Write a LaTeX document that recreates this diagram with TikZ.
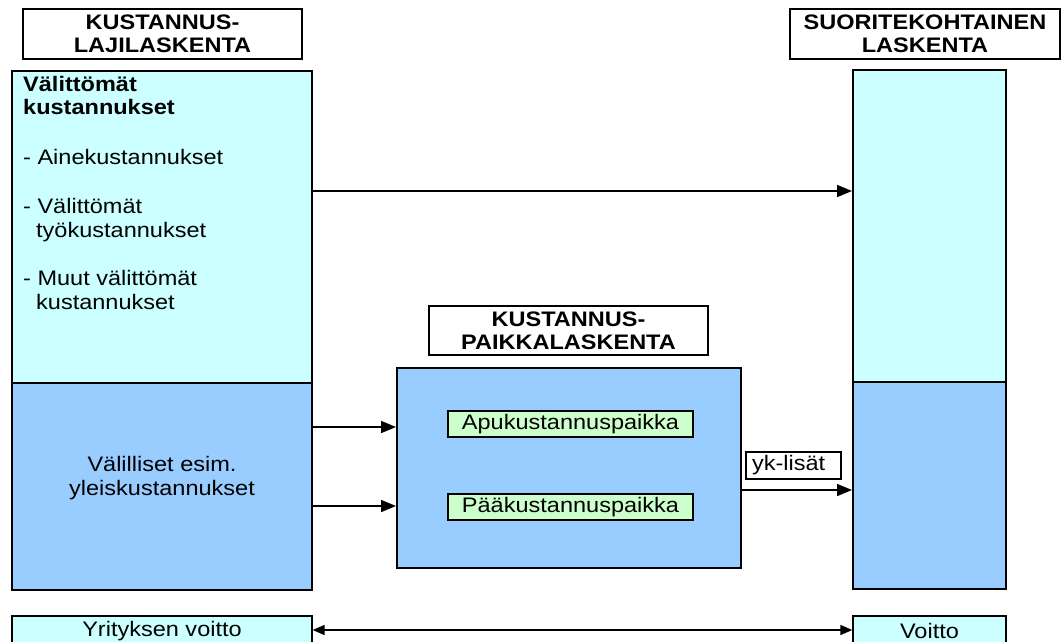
\documentclass[tikz,border=0pt]{standalone}
\usepackage{fontspec}
\setmainfont{Liberation Sans}[FakeStretch=1.12]
\usetikzlibrary{arrows.meta}
\definecolor{lightcyan}{HTML}{CCFFFF}
\definecolor{paleblue}{HTML}{99CCFF}
\definecolor{palegreen}{HTML}{CCFFCC}
\tikzset{
  txt/.style={font=\fontsize{21pt}{23.5pt}\selectfont},
  titlebox/.style={draw=black, line width=1.6pt, fill=white, inner sep=0pt, align=center,
    font=\fontsize{21pt}{23pt}\selectfont\bfseries},
  colbox/.style={draw=black, line width=2pt, inner sep=0pt},
  tagbox/.style={draw=black, line width=1.4pt, inner sep=0pt, align=center,
    font=\fontsize{21pt}{23pt}\selectfont},
  arr/.style={line width=1.7pt, -{Triangle[length=15pt,width=12pt]}},
  darr/.style={line width=1.7pt, {Triangle[length=12pt,width=10pt]}-{Triangle[length=12pt,width=10pt]}}
}
\begin{document}
\begin{tikzpicture}[x=1pt,y=-1pt]
\useasboundingbox (0,0) rectangle (1063,641);

% section titles
\node[titlebox, minimum width=279pt, minimum height=50pt] (t1) at (162.5,34) {KUSTANNUS-\\LAJILASKENTA};
\node[titlebox, minimum width=270pt, minimum height=50pt] (t2) at (925,34) {SUORITEKOHTAINEN\\LASKENTA};
\node[titlebox, minimum width=279pt, minimum height=49pt] (t3) at (568.5,330.5) {KUSTANNUS-\\PAIKKALASKENTA};

% cost-type column
\node[colbox, fill=lightcyan, minimum width=300pt, minimum height=312pt] (lc) at (162,227) {};
\node[colbox, fill=paleblue, minimum width=300pt, minimum height=207pt] (lb) at (162,486.5) {};
\node[txt, align=center, inner sep=0pt] (lbt) at (162,478) {Välilliset esim.\\yleiskustannukset};
\node[txt, anchor=north west, align=left, inner sep=0pt] (ltext) at (23,76)
  {\textbf{Välittömät}\\\textbf{kustannukset}\\[26pt]
   - Ainekustannukset\\[26pt]
   - Välittömät\\\hspace*{13pt}työkustannukset\\[25pt]
   - Muut välittömät\\\hspace*{13pt}kustannukset};

% product costing column
\node[colbox, fill=lightcyan, minimum width=153pt, minimum height=312pt] (rc) at (929.5,226) {};
\node[colbox, fill=paleblue, minimum width=153pt, minimum height=207pt] (rb) at (929.5,485.5) {};

% cost centre accounting
\node[colbox, fill=paleblue, minimum width=344pt, minimum height=200pt] (mb) at (569,468) {};
\node[tagbox, fill=palegreen, minimum width=245pt, minimum height=26pt] (apu) at (570.5,424) {Apukustannuspaikka};
\node[tagbox, fill=palegreen, minimum width=245pt, minimum height=26pt] (paa) at (570.5,507) {Pääkustannuspaikka};
\node[tagbox, fill=white, minimum width=95pt, minimum height=27pt, text width=83pt, align=left] (yk) at (793.5,465.5) {yk-lisät};

% profit row
\node[tagbox, fill=lightcyan, minimum width=300pt, minimum height=30pt] (yv) at (162,631) {Yrityksen voitto};
\node[tagbox, fill=lightcyan, minimum width=153pt, minimum height=30pt] (vo) at (929.5,631) {Voitto};

% flows
\draw[arr] (lc.east |- 0,191) -- (rc.west |- 0,191);
\draw[arr] (lb.east |- 0,427) -- (mb.west |- 0,427);
\draw[arr] (lb.east |- 0,506) -- (mb.west |- 0,506);
\draw[arr] (mb.east |- 0,490) -- (rb.west |- 0,490);
\draw[darr] (yv.east |- 0,630) -- (vo.west |- 0,630);
\end{tikzpicture}
\end{document}
